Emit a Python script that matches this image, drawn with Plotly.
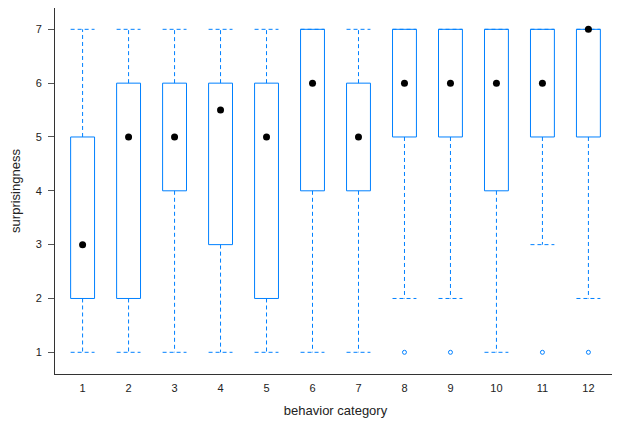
import plotly.graph_objects as go

categories = [1, 2, 3, 4, 5, 6, 7, 8, 9, 10, 11, 12]
whisker_low = [1, 1, 1, 1, 1, 1, 1, 2, 2, 1, 3, 2]
q1 = [2, 2, 4, 3, 2, 4, 4, 5, 5, 4, 5, 5]
median = [3, 5, 5, 5.5, 5, 6, 5, 6, 6, 6, 6, 7]
q3 = [5, 6, 6, 6, 6, 7, 6, 7, 7, 7, 7, 7]
whisker_high = [7, 7, 7, 7, 7, 7, 7, 7, 7, 7, 7, 7]
outlier_cats = [8, 9, 11, 12]
outlier_vals = [1, 1, 1, 1]

BLUE = "#0080ff"
half = 0.26

box_x, box_y = [], []
wh_x, wh_y = [], []
for c, lo, a, b, hi in zip(categories, whisker_low, q1, q3, whisker_high):
    box_x += [c - half, c + half, c + half, c - half, c - half, None]
    box_y += [a, a, b, b, a, None]
    if hi > b:
        wh_x += [c, c, None]
        wh_y += [b, hi, None]
    wh_x += [c - half, c + half, None]
    wh_y += [hi, hi, None]
    if lo < a:
        wh_x += [c, c, None]
        wh_y += [a, lo, None]
    wh_x += [c - half, c + half, None]
    wh_y += [lo, lo, None]

fig = go.Figure()
fig.add_trace(go.Scatter(x=wh_x, y=wh_y, mode="lines",
                         line=dict(color=BLUE, width=1, dash="4px,3px"),
                         hoverinfo="skip", showlegend=False))
fig.add_trace(go.Scatter(x=box_x, y=box_y, mode="lines",
                         line=dict(color=BLUE, width=1),
                         hoverinfo="skip", showlegend=False))
fig.add_trace(go.Scatter(x=categories, y=median, mode="markers",
                         marker=dict(color="black", size=7),
                         showlegend=False))
fig.add_trace(go.Scatter(x=outlier_cats, y=outlier_vals, mode="markers",
                         marker=dict(symbol="circle-open", color=BLUE, size=4,
                                     line=dict(width=1)),
                         showlegend=False))

fig.update_layout(
    width=612, height=413,
    margin=dict(l=47, r=4, t=0, b=47, autoexpand=False),
    paper_bgcolor="white", plot_bgcolor="white",
    font=dict(family="Liberation Sans, Arial, sans-serif", color="#222"),
    xaxis=dict(range=[0.4, 12.6], tickvals=categories,
               ticktext=[str(c) for c in categories],
               showgrid=False, zeroline=False, showline=True,
               linecolor="#333", linewidth=1, mirror=True, ticks="",
               tickfont=dict(size=11), automargin=False, ticklabelstandoff=4,
               title=dict(text="behavior category", font=dict(size=13), standoff=12)),
    yaxis=dict(range=[0.597, 7.396], tickvals=[1, 2, 3, 4, 5, 6, 7],
               showgrid=False, zeroline=False, showline=True,
               linecolor="#333", linewidth=1, mirror="ticks", ticks="outside",
               ticklen=6, tickcolor="#555", tickfont=dict(size=11),
               automargin=False, ticklabelstandoff=4,
               title=dict(text="surprisingness", font=dict(size=13), standoff=12)),
)

fig.write_html("out.html")
